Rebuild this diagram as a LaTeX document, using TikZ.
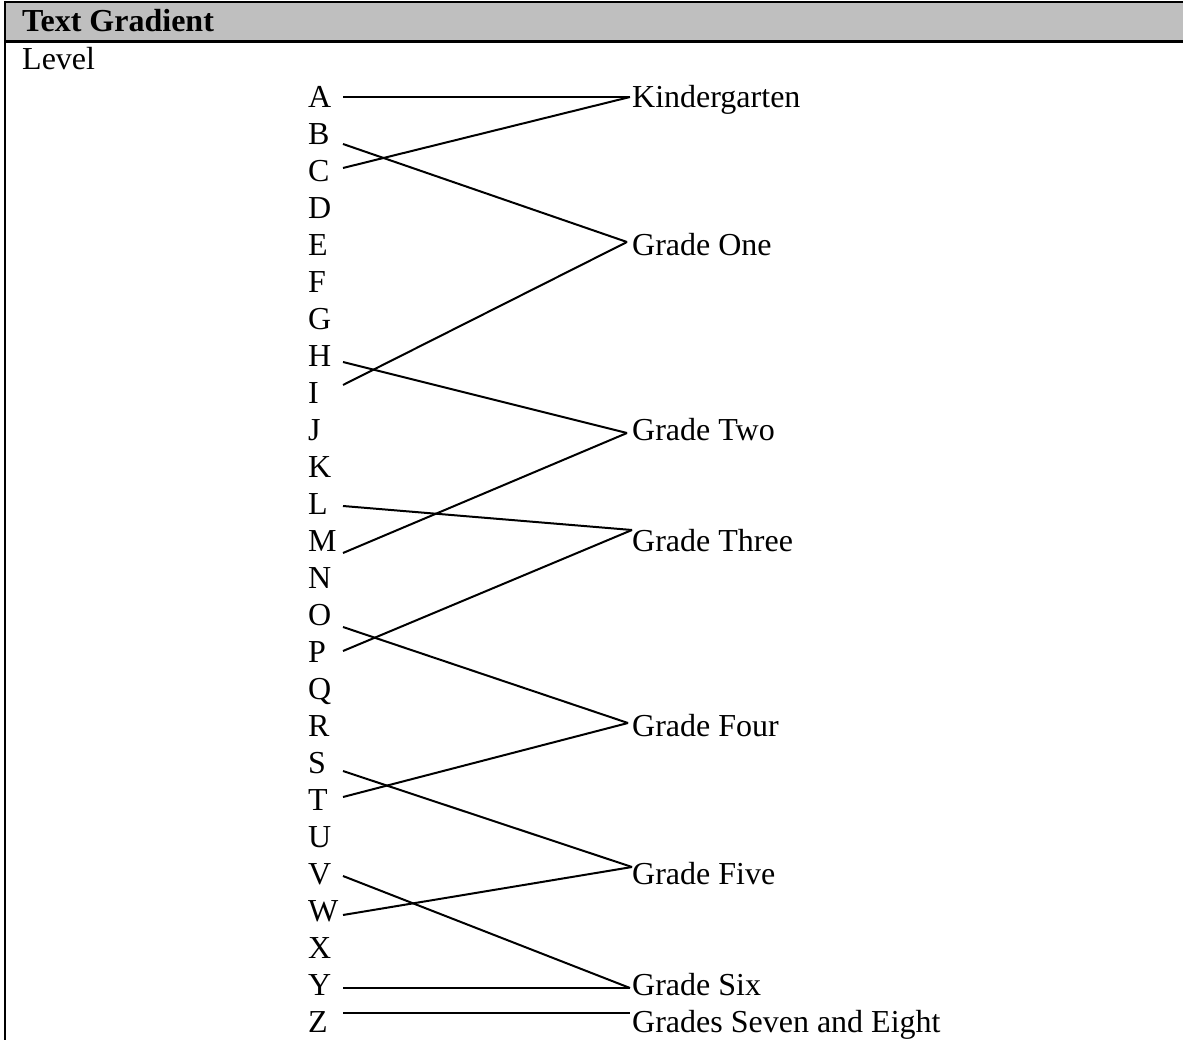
\documentclass[tikz,border=0pt]{standalone}
\usepackage{fontspec}
\setmainfont{Liberation Serif}
\begin{document}
\begin{tikzpicture}[x=1pt,y=-1pt,
  lbl/.style={anchor=base west,inner sep=0pt,font=\fontsize{32}{37}\selectfont},
  link/.style={line width=2pt,line cap=butt},
  rule/.style={line width=2.4pt}]
\useasboundingbox (0,0) rectangle (1183,1040);
% header bar
\fill[gray!50] (4,3) rectangle (1183,41);
\draw[rule] (4,2) -- (1183,2);
\draw[line width=3pt] (4,41.5) -- (1183,41.5);
\draw[rule] (5,1) -- (5,1040);
\node[lbl,font=\fontsize{32}{37}\selectfont\bfseries] (title) at (22,32) {Text Gradient};
\node[lbl] (level) at (22,70) {Level};
% letter column
\foreach \l [count=\i from 0] in {A,B,C,D,E,F,G,H,I,J,K,L,M,N,O,P,Q,R,S,T,U,V,W,X,Y,Z}
  \node[lbl] (\l) at (308,108+36.96*\i) {\l};
% grade column
\node[lbl] (kg)  at (632,108)  {Kindergarten};
\node[lbl] (g1)  at (632,255.8) {Grade One};
\node[lbl] (g2)  at (632,440.6) {Grade Two};
\node[lbl] (g3)  at (632,551.5) {Grade Three};
\node[lbl] (g4)  at (632,736.3) {Grade Four};
\node[lbl] (g5)  at (632,884.2) {Grade Five};
\node[lbl] (g6)  at (632,995.1) {Grade Six};
\node[lbl] (g78) at (632,1032) {Grades Seven and Eight};
% connector ends beside the letters
\coordinate (pA) at (343,97);
\coordinate (pB) at (343,144);
\coordinate (pC) at (343,168);
\coordinate (pH) at (343,362);
\coordinate (pI) at (343,385);
\coordinate (pL) at (343,506);
\coordinate (pM) at (343,553);
\coordinate (pO) at (343,627);
\coordinate (pP) at (343,651);
\coordinate (pS) at (343,771);
\coordinate (pT) at (343,797);
\coordinate (pV) at (343,876);
\coordinate (pW) at (343,915);
\coordinate (pY) at (343,988);
\coordinate (pZ) at (343,1013);
% connector ends beside the grades
\coordinate (qkg) at (630,97);
\coordinate (qg1) at (627,242);
\coordinate (qg2) at (627,433);
\coordinate (qg3) at (632,530);
\coordinate (qg4) at (628,723);
\coordinate (qg5) at (632,867);
\coordinate (qg6) at (630,988);
\coordinate (qg78) at (630,1013);
% level to grade links
\draw[link] (pA) -- (qkg);
\draw[link] (pC) -- (qkg);
\draw[link] (pB) -- (qg1);
\draw[link] (pI) -- (qg1);
\draw[link] (pH) -- (qg2);
\draw[link] (pM) -- (qg2);
\draw[link] (pL) -- (qg3);
\draw[link] (pP) -- (qg3);
\draw[link] (pO) -- (qg4);
\draw[link] (pT) -- (qg4);
\draw[link] (pS) -- (qg5);
\draw[link] (pW) -- (qg5);
\draw[link] (pV) -- (qg6);
\draw[link] (pY) -- (qg6);
\draw[link] (pZ) -- (qg78);
\end{tikzpicture}
\end{document}
